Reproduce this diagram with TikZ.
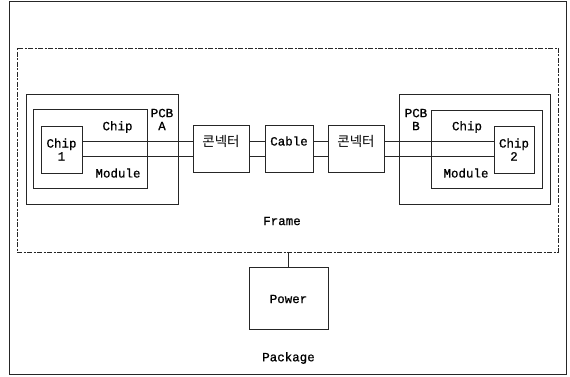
\documentclass[tikz,border=0pt]{standalone}
\usepackage{fontspec}
\setmainfont[FakeBold=0.8,AutoFakeBold=0.8]{Liberation Mono}
\newfontfamily\kr{Noto Sans CJK KR}
\begin{document}
\begin{tikzpicture}[x=1pt,y=-1pt,
  box/.style={draw=black!85,line width=0.8pt,inner sep=0pt},
  txt/.style={inner sep=0pt,font=\bfseries\fontsize{12.5}{13}\selectfont,align=center},
  ktxt/.style={inner sep=0pt,font=\kr\fontsize{13.5}{14}\selectfont},
  wire/.style={draw=black!85,line width=0.8pt}]
\useasboundingbox (0,0) rectangle (570,377);
% outer package
\node[box,line width=1pt,minimum width=557pt,minimum height=372pt] (pkg) at (287.5,188) {};
% frame
\node[box,dash pattern=on 5pt off 1.5pt on 2pt off 1.5pt,minimum width=541pt,minimum height=204pt] (frame) at (287.5,150) {};
% PCB A
\node[box,minimum width=152pt,minimum height=110pt] (pcba) at (102,149) {};
\node[box,minimum width=114pt,minimum height=79pt] (moda) at (90,148.5) {};
\node[box,minimum width=41pt,minimum height=47pt] (chip1) at (61.5,149.5) {};
% PCB B
\node[box,minimum width=151pt,minimum height=110pt] (pcbb) at (474.5,149) {};
\node[box,minimum width=111pt,minimum height=78pt] (modb) at (486.5,149) {};
\node[box,minimum width=40pt,minimum height=47pt] (chip2) at (514,149.5) {};
% connectors and cable
\node[box,minimum width=56pt,minimum height=47pt] (conn1) at (221,148.5) {};
\node[box,minimum width=48pt,minimum height=47pt] (cable) at (289,148.5) {};
\node[box,minimum width=56pt,minimum height=47pt] (conn2) at (356,148.5) {};
% power
\node[box,minimum width=79pt,minimum height=62pt] (power) at (288.5,298) {};
% texts
\node[txt] (tpcba) at (162,119.5) {PCB\\A};
\node[txt] (tchipa) at (117.5,127) {Chip};
\node[txt] (tmoda) at (118,173) {Module};
\node[txt] (tchip1) at (61.5,149.5) {Chip\\1};
\node[txt] (tpcbb) at (416,119.5) {PCB\\B};
\node[txt] (tchipb) at (467,127) {Chip};
\node[txt] (tmodb) at (466,173) {Module};
\node[txt] (tchip2) at (514,149.5) {Chip\\2};
\node[ktxt] (tconn1) at (221,141) {콘넥터};
\node[txt] (tcable) at (289,141) {Cable};
\node[ktxt] (tconn2) at (356,141) {콘넥터};
\node[txt] (tframe) at (282,221) {Frame};
\node[txt] (tpower) at (288.5,299) {Power};
\node[txt] (tpkg) at (288.5,358) {Package};
% wires
\coordinate (wu) at (0,141);
\coordinate (wl) at (0,156.5);
\draw[wire] (chip1.east |- wu) -- (conn1.west |- wu);
\draw[wire] (chip1.east |- wl) -- (conn1.west |- wl);
\draw[wire] (conn1.east |- wu) -- (cable.west |- wu);
\draw[wire] (conn1.east |- wl) -- (cable.west |- wl);
\draw[wire] (cable.east |- wu) -- (conn2.west |- wu);
\draw[wire] (cable.east |- wl) -- (conn2.west |- wl);
\draw[wire] (conn2.east |- wu) -- (chip2.west |- wu);
\draw[wire] (conn2.east |- wl) -- (chip2.west |- wl);
\draw[wire] (power.north) -- (power.north |- frame.south);
\end{tikzpicture}
\end{document}
